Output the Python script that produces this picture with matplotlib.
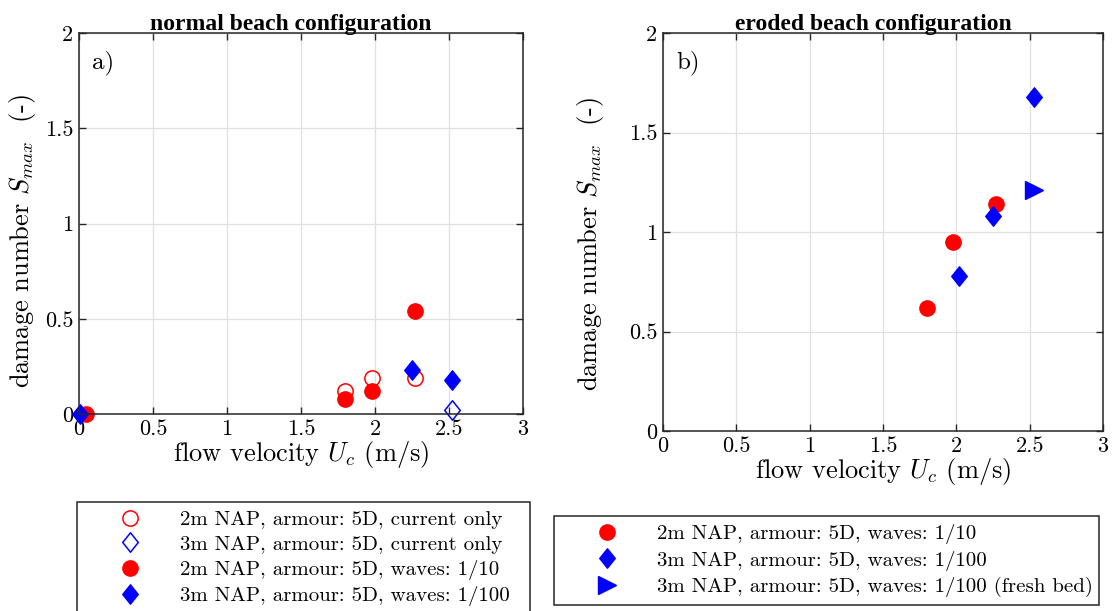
import numpy as np
import matplotlib.pyplot as plt
from matplotlib.path import Path

plt.rcParams['font.family'] = ['cmr10', 'DejaVu Serif']
plt.rcParams['mathtext.fontset'] = 'cm'
plt.rcParams['axes.formatter.use_mathtext'] = True

# panel a) normal beach
a_cur2_x = [1.80, 1.98, 2.27]
a_cur2_y = [0.12, 0.19, 0.19]
a_cur3_x = [2.52]
a_cur3_y = [0.02]
a_wav2_x = [0.05, 1.80, 1.98, 2.27]
a_wav2_y = [0.00, 0.08, 0.12, 0.54]
a_wav3_x = [0.01, 2.25, 2.52]
a_wav3_y = [0.00, 0.23, 0.18]

# panel b) eroded beach
b_wav2_x = [1.80, 1.98, 2.27]
b_wav2_y = [0.62, 0.95, 1.14]
b_wav3_x = [2.02, 2.25, 2.53]
b_wav3_y = [0.78, 1.08, 1.68]
b_fresh_x = [2.53]
b_fresh_y = [1.21]

labels_a = ['2m NAP, armour: 5D, current only',
            '3m NAP, armour: 5D, current only',
            '2m NAP, armour: 5D, waves: 1/10',
            '3m NAP, armour: 5D, waves: 1/100']
labels_b = ['2m NAP, armour: 5D, waves: 1/10',
            '3m NAP, armour: 5D, waves: 1/100',
            '3m NAP, armour: 5D, waves: 1/100 (fresh bed)']
ticks_x = [0, 0.5, 1, 1.5, 2, 2.5, 3]
ticks_y = [0, 0.5, 1, 1.5, 2]

# diamond a bit wider than matplotlib's 'd'
diamond = Path([(0, 1), (0.8, 0), (0, -1), (-0.8, 0), (0, 1)],
               [Path.MOVETO, Path.LINETO, Path.LINETO, Path.LINETO, Path.CLOSEPOLY])

W, H = 1115, 611
fig = plt.figure(figsize=(W / 100, H / 100), dpi=100)
ax1 = fig.add_axes([79 / W, 1 - 414 / H, 444 / W, 381 / H])
ax2 = fig.add_axes([663 / W, 1 - 431 / H, 440 / W, 398 / H])

ms_c = 11
ms_d = 14
h1 = ax1.plot(a_cur2_x, a_cur2_y, 'o', ms=ms_c, mfc='none', mec='red', mew=1.1, clip_on=False)[0]
h2 = ax1.plot(a_cur3_x, a_cur3_y, marker=diamond, ls='none', ms=ms_d, mfc='none', mec='blue', mew=1.1, clip_on=False)[0]
h3 = ax1.plot(a_wav2_x, a_wav2_y, 'o', ms=ms_c, color='red', clip_on=False)[0]
h4 = ax1.plot(a_wav3_x, a_wav3_y, marker=diamond, ls='none', ms=ms_d, color='blue', clip_on=False)[0]

g1 = ax2.plot(b_wav2_x, b_wav2_y, 'o', ms=ms_c, color='red')[0]
g2 = ax2.plot(b_wav3_x, b_wav3_y, marker=diamond, ls='none', ms=ms_d, color='blue')[0]
g3 = ax2.plot(b_fresh_x, b_fresh_y, '>', ms=12.5, color='blue')[0]

for ax, title, tag in [(ax1, 'normal beach configuration', 'a)'),
                       (ax2, 'eroded beach configuration', 'b)')]:
    ax.set_xlim(0, 3)
    ax.set_ylim(0, 2)
    ax.set_xticks(ticks_x)
    ax.set_xticklabels([f'{t:g}' for t in ticks_x])
    ax.set_yticks(ticks_y)
    ax.set_yticklabels([f'{t:g}' for t in ticks_y])
    ax.grid(True, color='#e0e0e0', lw=0.9)
    ax.set_axisbelow(True)
    ax.tick_params(direction='in', top=True, right=True, labelsize=16,
                   length=5, width=1.0, color='#262626', pad=4)
    for s in ax.spines.values():
        s.set_color('#262626')
        s.set_linewidth(1.1)
    ax.set_title(title, fontweight='bold', fontsize=17, pad=2,
                 family='Liberation Serif', x=0.478)
    ax.text(0.03, 0.955, tag, transform=ax.transAxes, fontsize=18, va='top', ha='left')
    ax.set_xlabel('flow velocity $U_c$ (m/s)', fontsize=19, labelpad=0)
    ax.set_ylabel('damage number $S_{max}$  (-)', fontsize=19)

ax1.yaxis.set_label_coords(-0.092, 0.454)
ax2.yaxis.set_label_coords(-0.13, 0.47)

leg_kw = dict(loc='upper left', mode='expand', fontsize=15, frameon=True, fancybox=False,
              edgecolor='#262626', handlelength=4.3, handletextpad=0.25,
              borderpad=0.4, labelspacing=0.3, borderaxespad=0, framealpha=1)
l1 = fig.legend([h1, h2, h3, h4], labels_a,
                bbox_to_anchor=(77 / W, 1 - 502 / H - 0.01, 453 / W, 0.01), **leg_kw)
l2 = fig.legend([g1, g2, g3], labels_b,
                bbox_to_anchor=(554 / W, 1 - 516 / H - 0.01, 545 / W, 0.01), **leg_kw)
for l in (l1, l2):
    l.get_frame().set_linewidth(1.1)

fig.savefig('out.png', dpi=100)
